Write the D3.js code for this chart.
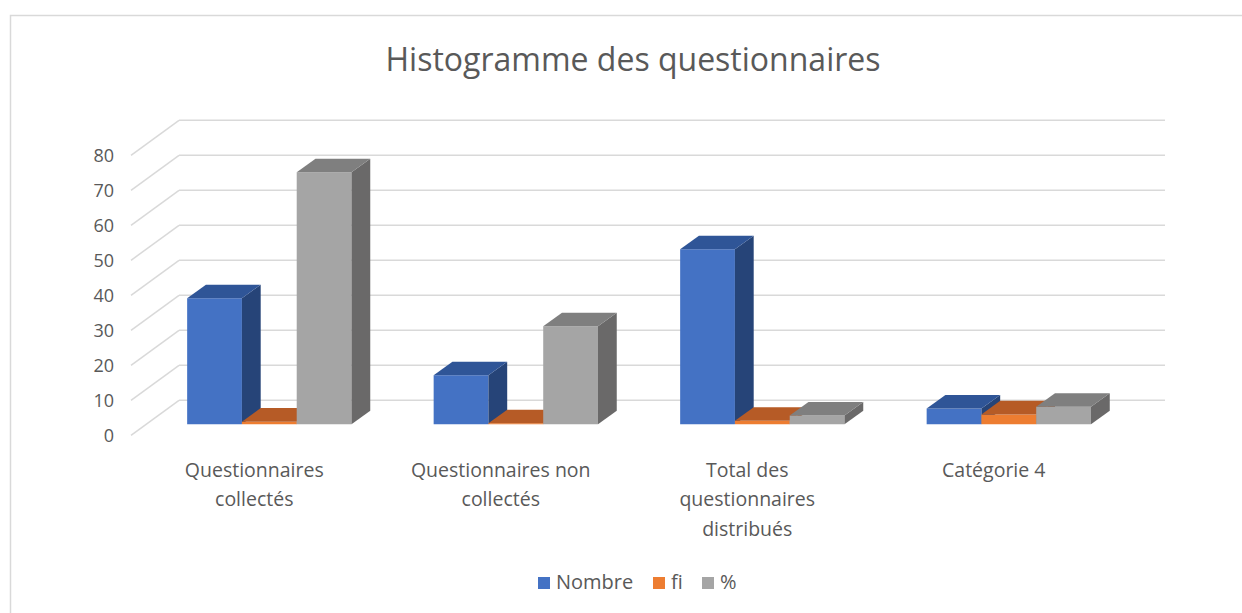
<!DOCTYPE html>
<html>
<head>
<meta charset="utf-8">
<script src="https://cdn.jsdelivr.net/npm/d3@7"></script>
<style>
  body { margin: 0; background: #fff; }
  text { font-family: "Open Sans", sans-serif; fill: #595959; }
</style>
</head>
<body>
<script>
const W = 1242, H = 613;

// data
const categories = ["Questionnaires collectés", "Questionnaires non collectés", "Total des questionnaires distribués", "Catégorie 4"];
const categoryLines = [["Questionnaires", "collectés"], ["Questionnaires non", "collectés"], ["Total des", "questionnaires", "distribués"], ["Catégorie 4"]];
const seriesNames = ["Nombre", "fi", "%"];
const nombre = [36, 14, 50, 4.5];
const fi = [0.72, 0.28, 1, 2.8];
const pct = [72, 28, 2.5, 5];
const yTicks = [0, 10, 20, 30, 40, 50, 60, 70, 80];

const seriesValues = [nombre, fi, pct];
const colors = [
  {front: "#4472C4", top: "#2F5597", side: "#264478"},
  {front: "#ED7D31", top: "#B65B26", side: "#A9511C"},
  {front: "#A5A5A5", top: "#7F7F7F", side: "#6A6969"}
];

// 3D depth offsets (front plane -> back wall)
const depthX = 48, depthY = 35;
const t0 = 0.314, t1 = 0.705;

const svg = d3.select("body").append("svg")
    .attr("width", W)
    .attr("height", H);

// chart frame
svg.append("rect")
    .attr("x", 10.5).attr("y", 15.5)
    .attr("width", 1300).attr("height", 700)
    .attr("fill", "none")
    .attr("stroke", "#d9d9d9")
    .attr("stroke-width", 1.5);

// title
svg.append("text")
    .attr("x", 633).attr("y", 71)
    .attr("text-anchor", "middle")
    .style("font-size", "32px")
    .text("Histogramme des questionnaires");

const x = d3.scaleBand().domain(categories).range([131, 1117]);
const xs = d3.scaleBand().domain(seriesNames)
    .range([x.bandwidth() / 6, x.bandwidth() * 5 / 6]);
const y = d3.scaleLinear().domain([0, 80]).range([435.3, 155.3]);

function proj(px, v, t) {
  return [px + t * depthX, y(v) - t * depthY];
}

// back wall gridlines + side wall diagonals
const grid = svg.append("g").attr("class", "grid");
grid.selectAll("line.back")
  .data(yTicks)
  .join("line")
    .attr("class", "back")
    .attr("x1", 131 + depthX).attr("x2", 1117 + depthX)
    .attr("y1", d => y(d) - depthY).attr("y2", d => y(d) - depthY)
    .attr("stroke", "#d9d9d9")
    .attr("stroke-width", 1.5);
grid.selectAll("line.side")
  .data(yTicks)
  .join("line")
    .attr("class", "side")
    .attr("x1", 131).attr("x2", 131 + depthX)
    .attr("y1", d => y(d)).attr("y2", d => y(d) - depthY)
    .attr("stroke", "#d9d9d9")
    .attr("stroke-width", 1.5);

// y labels
svg.append("g").selectAll("text")
  .data(yTicks)
  .join("text")
    .attr("x", 114)
    .attr("y", d => y(d))
    .attr("dy", "0.35em")
    .attr("text-anchor", "end")
    .style("font-size", "18px")
    .text(d => d);

// bars, drawn left to right so later faces cover earlier sides
let bars = [];
categories.forEach((c, i) => {
  seriesNames.forEach((s, j) => {
    bars.push({cat: c, s: j, v: seriesValues[j][i]});
  });
});

const line = d3.line();
const barG = svg.append("g");
for (let b of bars) {
  const xa = x(b.cat) + xs(seriesNames[b.s]);
  const xb = xa + xs.bandwidth();
  const col = colors[b.s];
  const g = barG.append("g");
  g.append("path")
    .attr("d", line([proj(xa, 0, t0), proj(xb, 0, t0), proj(xb, b.v, t0), proj(xa, b.v, t0)]) + "Z")
    .attr("fill", col.front);
  g.append("path")
    .attr("d", line([proj(xb, 0, t0), proj(xb, 0, t1), proj(xb, b.v, t1), proj(xb, b.v, t0)]) + "Z")
    .attr("fill", col.side);
  g.append("path")
    .attr("d", line([proj(xa, b.v, t0), proj(xb, b.v, t0), proj(xb, b.v, t1), proj(xa, b.v, t1)]) + "Z")
    .attr("fill", col.top);
}

// category labels
const catG = svg.append("g").selectAll("text")
  .data(categories)
  .join("text")
    .attr("x", d => x(d) + x.bandwidth() / 2)
    .attr("y", 477)
    .attr("text-anchor", "middle")
    .style("font-size", "19.5px");
catG.selectAll("tspan")
  .data((d, i) => categoryLines[i])
  .join("tspan")
    .attr("x", function() { return d3.select(this.parentNode).attr("x"); })
    .attr("dy", (d, i) => i === 0 ? 0 : 29.3)
    .text(d => d);

// legend
const legendX = [538, 653, 702];
const legend = svg.append("g");
seriesNames.forEach((s, j) => {
  legend.append("rect")
    .attr("x", legendX[j]).attr("y", 577)
    .attr("width", 12).attr("height", 12)
    .attr("fill", colors[j].front);
  legend.append("text")
    .attr("x", legendX[j] + 18).attr("y", 589)
    .style("font-size", "20px")
    .text(s);
});
</script>
</body>
</html>
